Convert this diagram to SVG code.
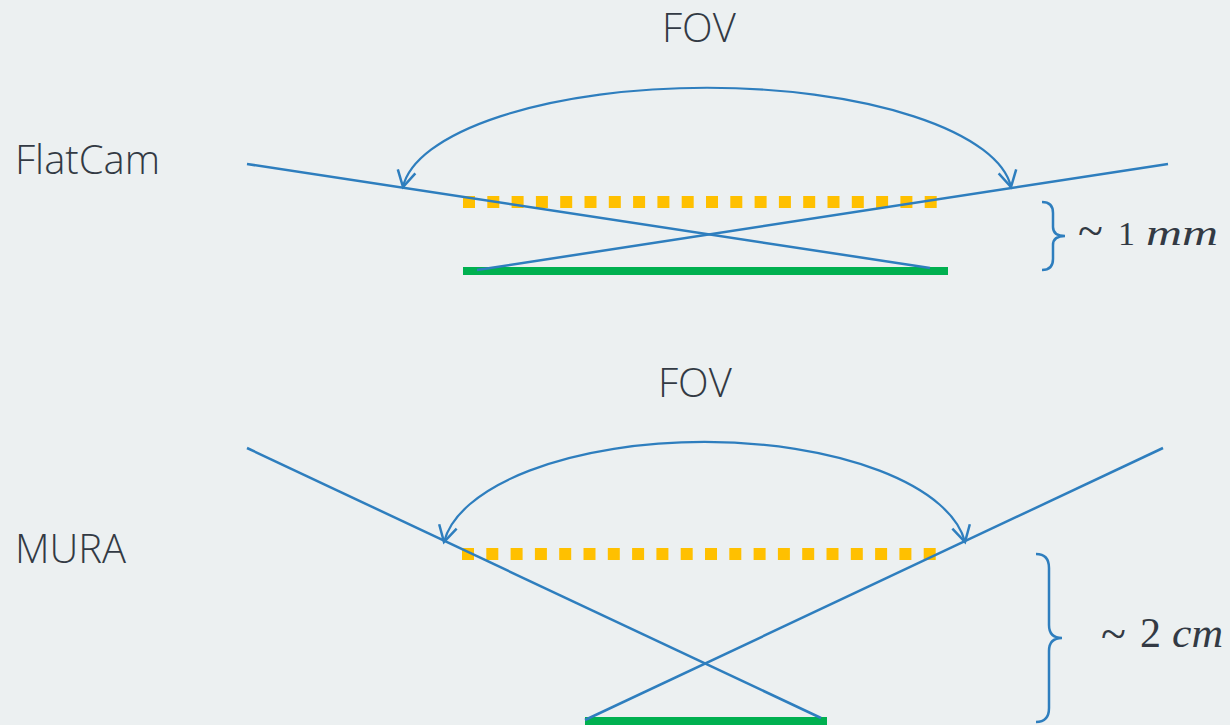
<svg xmlns="http://www.w3.org/2000/svg" width="1230" height="725" viewBox="0 0 1230 725">
  <defs>
    <style>
      .lbl { font-family: "Open Sans", "Noto Sans", sans-serif; font-weight: 300; font-size: 40px; fill: #333A44; }
      .math { font-family: "Liberation Serif", serif; fill: #333A44; }
      .ray { stroke: #2E7EBE; stroke-width: 2.5; fill: none; }
      .fov { stroke: #2E7EBE; stroke-width: 2.2; fill: none; marker-start: url(#vh); marker-end: url(#vh); }
      .brace { stroke: #2E7EBE; stroke-width: 2.5; fill: none; }
      .mask { stroke: #FFC000; stroke-width: 12; stroke-dasharray: 12 12.3; fill: none; }
      .sensor { stroke: #00B050; stroke-width: 8; fill: none; }
    </style>
    <marker id="vh" markerUnits="userSpaceOnUse" markerWidth="40" markerHeight="40" viewBox="-20 -20 40 40" refX="0" refY="0" orient="auto-start-reverse">
      <path d="M -16 -9 L 0 0 L -16 9" fill="none" stroke="#2E7EBE" stroke-width="2.5"/>
    </marker>
  </defs>
  <rect width="1230" height="725" fill="#ECF0F1"/>

  <g id="flatcam">
    <text class="lbl" x="15" y="174">FlatCam</text>
    <text class="lbl" x="662" y="42">FOV</text>
    <line id="flatcam-mask" class="mask" x1="463" y1="202" x2="938" y2="202"/>
    <line id="flatcam-sensor" class="sensor" x1="463" y1="271" x2="948" y2="271"/>
    <path id="flatcam-brace" class="brace" d="M 1042 202 Q 1053 202 1053 213 L 1053 227 Q 1053 236 1065 236 Q 1053 236 1053 245 L 1053 259 Q 1053 270 1042 270"/>
    <text class="math" x="1078" y="246" font-size="46">~</text>
    <text class="math" x="1118" y="245" font-size="34">1</text>
    <text class="math" x="1146" y="245" font-size="36" font-style="italic" textLength="72" lengthAdjust="spacingAndGlyphs">mm</text>
  </g>

  <g id="mura">
    <text class="lbl" x="15" y="563">MURA</text>
    <text class="lbl" x="658" y="397">FOV</text>
    <line id="mura-mask" class="mask" x1="462" y1="554" x2="937" y2="554"/>
    <line id="mura-sensor" class="sensor" x1="585" y1="721" x2="827" y2="721"/>
    <path id="mura-brace" class="brace" d="M 1036 554 Q 1049 554 1049 568 L 1049 625 Q 1049 638 1062 638 Q 1049 638 1049 651 L 1049 708 Q 1049 722 1036 722"/>
    <text class="math" x="1101" y="649" font-size="46">~</text>
    <text class="math" x="1140" y="647" font-size="42">2</text>
    <text class="math" x="1172" y="647" font-size="42" font-style="italic" textLength="51" lengthAdjust="spacingAndGlyphs">cm</text>
  </g>

  <g id="connectors">
    <line class="ray" x1="247" y1="164" x2="930" y2="268"/>
    <line class="ray" x1="1168" y1="164" x2="477" y2="270"/>
    <path class="fov" d="M 403 187 A 305 108 0 0 1 1011 187"/>
    <line class="ray" x1="247" y1="448" x2="821" y2="718"/>
    <line class="ray" x1="1163" y1="448" x2="585" y2="720"/>
    <path class="fov" d="M 444 542 A 262 112 0 0 1 965 542"/>
  </g>
</svg>
